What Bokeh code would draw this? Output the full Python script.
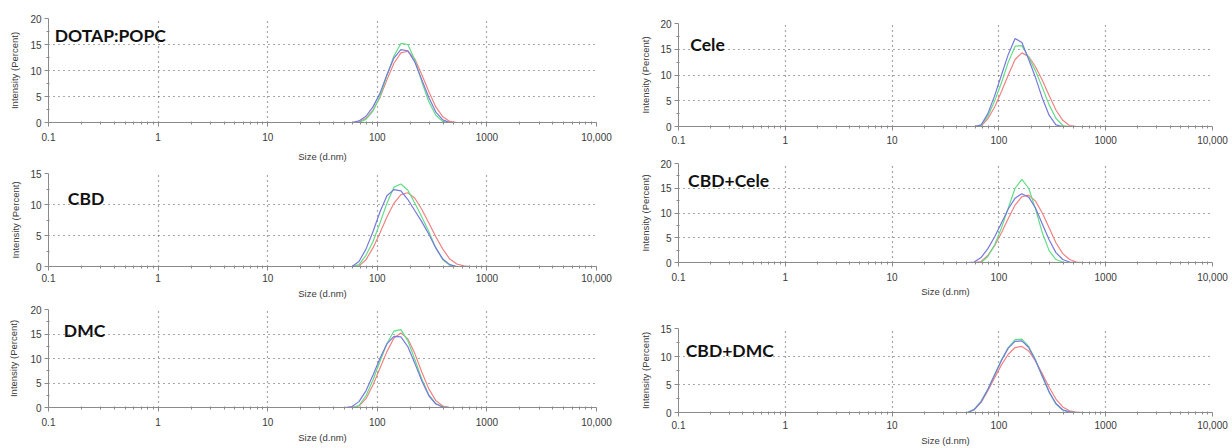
from bokeh.plotting import figure
from bokeh.models import Range1d, FixedTicker, Label
from bokeh.layouts import row, column
from bokeh.embed import file_html
from bokeh.resources import INLINE

# ---------------- data ----------------
sizes = [0.4, 50.75, 58.77, 68.06, 78.82, 91.28, 105.7, 122.4, 141.8, 164.2, 190.1,
         220.2, 255.0, 295.3, 342.0, 396.1, 458.7, 531.2, 615.1, 712.4, 825.0, 10000]

panel_titles = ["DOTAP:POPC", "CBD", "DMC", "Cele", "CBD+Cele", "CBD+DMC"]
panel_ymax = [20, 15, 20, 20, 20, 15]

dotap_red = [0, 0, 0, 0.1, 0.8, 2.4, 4.8, 8.2, 11.4, 13.4, 13.7, 12.2, 9.2, 5.9, 3.0, 1.1, 0.2, 0, 0, 0, 0, 0]
dotap_green = [0, 0, 0, 0, 0.6, 2.2, 5.0, 9.0, 12.8, 15.2, 15.0, 12.0, 7.8, 4.0, 1.4, 0.2, 0, 0, 0, 0, 0, 0]
dotap_blue = [0, 0, 0, 0.3, 1.2, 3.0, 5.6, 9.2, 12.4, 14.0, 13.8, 11.6, 8.2, 4.8, 2.0, 0.5, 0, 0, 0, 0, 0, 0]

cbd_red = [0, 0, 0, 0.1, 1.1, 3.0, 5.4, 8.0, 10.2, 11.6, 11.9, 11.0, 9.2, 7.0, 4.8, 2.8, 1.2, 0.4, 0.1, 0, 0, 0]
cbd_green = [0, 0, 0, 0.3, 1.8, 4.0, 7.0, 10.2, 12.8, 13.3, 12.3, 10.2, 8.0, 5.6, 3.0, 1.1, 0.2, 0, 0, 0, 0, 0]
cbd_blue = [0, 0, 0, 0.8, 2.8, 5.6, 8.8, 11.4, 12.4, 12.2, 10.8, 9.0, 7.2, 5.2, 3.0, 1.2, 0.3, 0, 0, 0, 0, 0]

dmc_red = [0, 0, 0, 0.3, 1.8, 4.6, 8.0, 11.4, 14.2, 15.2, 14.0, 11.0, 7.2, 3.8, 1.4, 0.3, 0, 0, 0, 0, 0, 0]
dmc_green = [0, 0, 0, 0.4, 2.4, 5.6, 9.4, 13.0, 15.6, 15.9, 13.6, 9.8, 5.8, 2.6, 0.8, 0.1, 0, 0, 0, 0, 0, 0]
dmc_blue = [0, 0, 0.2, 1.2, 3.4, 6.6, 10.0, 13.0, 14.5, 14.4, 12.4, 9.0, 5.4, 2.4, 0.7, 0.1, 0, 0, 0, 0, 0, 0]

cele_red = [0, 0, 0, 0.1, 1.5, 3.8, 6.8, 10.0, 13.0, 14.3, 13.6, 11.6, 9.0, 6.0, 3.2, 1.2, 0.2, 0, 0, 0, 0, 0]
cele_green = [0, 0, 0, 0.2, 2.0, 5.0, 8.5, 12.5, 15.6, 15.7, 13.4, 10.8, 7.6, 4.2, 1.6, 0.2, 0, 0, 0, 0, 0, 0]
cele_blue = [0, 0, 0, 0.3, 2.5, 6.0, 10.0, 14.0, 17.1, 16.3, 13.0, 9.5, 5.5, 2.2, 0.3, 0, 0, 0, 0, 0, 0, 0]

cbdcele_red = [0, 0, 0, 0.2, 1.4, 3.4, 6.0, 8.9, 11.6, 13.3, 13.6, 12.4, 10.0, 7.0, 4.0, 1.8, 0.6, 0.1, 0, 0, 0, 0]
cbdcele_green = [0, 0, 0, 0, 1.2, 3.6, 7.0, 11.0, 15.0, 16.8, 15.0, 10.8, 6.0, 2.4, 0.6, 0.1, 0, 0, 0, 0, 0, 0]
cbdcele_blue = [0, 0, 0.1, 1.0, 2.8, 5.2, 8.0, 10.8, 13.0, 13.9, 13.2, 11.0, 7.8, 4.6, 2.0, 0.6, 0.1, 0, 0, 0, 0, 0]

cbddmc_red = [0, 0, 0.5, 1.8, 3.9, 6.2, 8.5, 10.4, 11.6, 11.8, 11.0, 9.2, 6.9, 4.5, 2.4, 1.0, 0.3, 0.05, 0, 0, 0, 0]
cbddmc_green = [0, 0, 0.6, 2.0, 4.2, 6.8, 9.4, 11.6, 13.0, 13.1, 11.8, 9.4, 6.4, 3.6, 1.5, 0.4, 0.05, 0, 0, 0, 0, 0]
cbddmc_blue = [0, 0, 0.5, 1.9, 4.1, 6.7, 9.3, 11.5, 12.7, 12.8, 11.6, 9.3, 6.5, 3.7, 1.6, 0.5, 0.1, 0, 0, 0, 0, 0]

x_ticks = [0.1, 1, 10, 100, 1000, 10000]
x_tick_labels = ["0.1", "1", "10", "100", "1000", "10,000"]
x_title = "Size (d.nm)"
y_title = "Intensity (Percent)"

series = [
    (dotap_red, dotap_green, dotap_blue),
    (cbd_red, cbd_green, cbd_blue),
    (dmc_red, dmc_green, dmc_blue),
    (cele_red, cele_green, cele_blue),
    (cbdcele_red, cbdcele_green, cbdcele_blue),
    (cbddmc_red, cbddmc_green, cbddmc_blue),
]

# ---------------- style / layout ----------------
RED, GREEN, BLUE = "#F08282", "#62DE86", "#7878DE"
TXT = "#3a3a3a"
FONT = "Liberation Sans"

layout_spec = [
    dict(w=620, h=164, bl=48, br=24, bt=18, bb=41, xs=6, xls=7, yls=7, xl=True, lx=0.114, ly=16.8),
    dict(w=620, h=137, bl=42, br=24, bt=9, bb=35, xs=3, xls=3, yls=6, xl=True, lx=0.15, ly=11.0),
    dict(w=620, h=147, bl=45, br=24, bt=8, bb=41, xs=6, xls=3, yls=8, xl=True, lx=0.138, ly=15.8),
    dict(w=612, h=150, bl=58, br=20, bt=23, bb=24, xs=5, xls=3, yls=6, xl=False, lx=0.129, ly=16.0),
    dict(w=612, h=150, bl=58, br=20, bt=13, bb=38, xs=6, xls=2, yls=6, xl=True, lx=0.123, ly=16.6),
    dict(w=612, h=148, bl=58, br=20, bt=28, bb=32, xs=4, xls=3, yls=6, xl=True, lx=0.117, ly=11.0),
]

x_minor = [m * 10.0 ** e for e in range(-1, 4) for m in range(2, 10)]


def make_panel(i):
    s = layout_spec[i]
    ymax = panel_ymax[i]
    p = figure(width=s["w"], height=s["h"], x_axis_type="log",
               x_range=Range1d(0.1, 10000), y_range=Range1d(0, ymax),
               output_backend="svg", toolbar_location=None,
               min_border_left=s["bl"], min_border_right=s["br"],
               min_border_top=s["bt"], min_border_bottom=s["bb"])
    p.outline_line_color = None
    p.background_fill_color = "white"
    p.border_fill_color = "white"

    red, green, blue = series[i]
    p.line(sizes, red, line_color=RED, line_width=1.2)
    p.line(sizes, green, line_color=GREEN, line_width=1.2)
    p.line(sizes, blue, line_color=BLUE, line_width=1.2)

    xt = FixedTicker(ticks=x_ticks, minor_ticks=x_minor)
    y_major = list(range(0, ymax + 1, 5))
    y_minor = [v + 2.5 for v in y_major[:-1]]
    yt = FixedTicker(ticks=y_major, minor_ticks=y_minor)
    p.xaxis.ticker = xt
    p.xgrid.ticker = xt
    p.yaxis.ticker = yt
    p.ygrid.ticker = yt
    p.xaxis.major_label_overrides = dict(zip(x_ticks, x_tick_labels))

    for ax in (p.xaxis, p.yaxis):
        ax.axis_line_color = "#8a8a8a"
        ax.major_tick_line_color = "#8a8a8a"
        ax.minor_tick_line_color = "#8a8a8a"
        ax.major_tick_out = 4
        ax.major_tick_in = 0
        ax.minor_tick_out = 2
        ax.minor_tick_in = 1
        ax.major_label_text_font = FONT
        ax.major_label_text_font_size = "10px"
        ax.major_label_text_color = TXT
        ax.axis_label_text_font = FONT
        ax.axis_label_text_font_size = "9.5px"
        ax.axis_label_text_font_style = "normal"
        ax.axis_label_text_color = TXT
    p.xaxis.major_label_standoff = s["xs"]
    p.yaxis.major_label_standoff = 3
    p.xaxis.axis_label_standoff = s["xls"]
    p.yaxis.axis_label_standoff = s["yls"]
    if s["xl"]:
        p.xaxis.axis_label = x_title
    p.yaxis.axis_label = y_title

    for g in (p.xgrid, p.ygrid):
        g.grid_line_color = "#505050"
        g.grid_line_dash = "1 4"
        g.grid_line_width = 1.2

    p.add_layout(Label(x=s["lx"], y=s["ly"], text=panel_titles[i],
                       text_font="Lato", text_font_style="bold", text_font_size="17.5px",
                       text_color="#111111", text_baseline="middle", text_align="left"))
    return p


panels = [make_panel(i) for i in range(6)]
left = column(panels[0], panels[1], panels[2], spacing=0)
right = column(panels[3], panels[4], panels[5], spacing=0)
layout = row(left, right, spacing=0)

open("out.html", "w").write(file_html(layout, INLINE))
